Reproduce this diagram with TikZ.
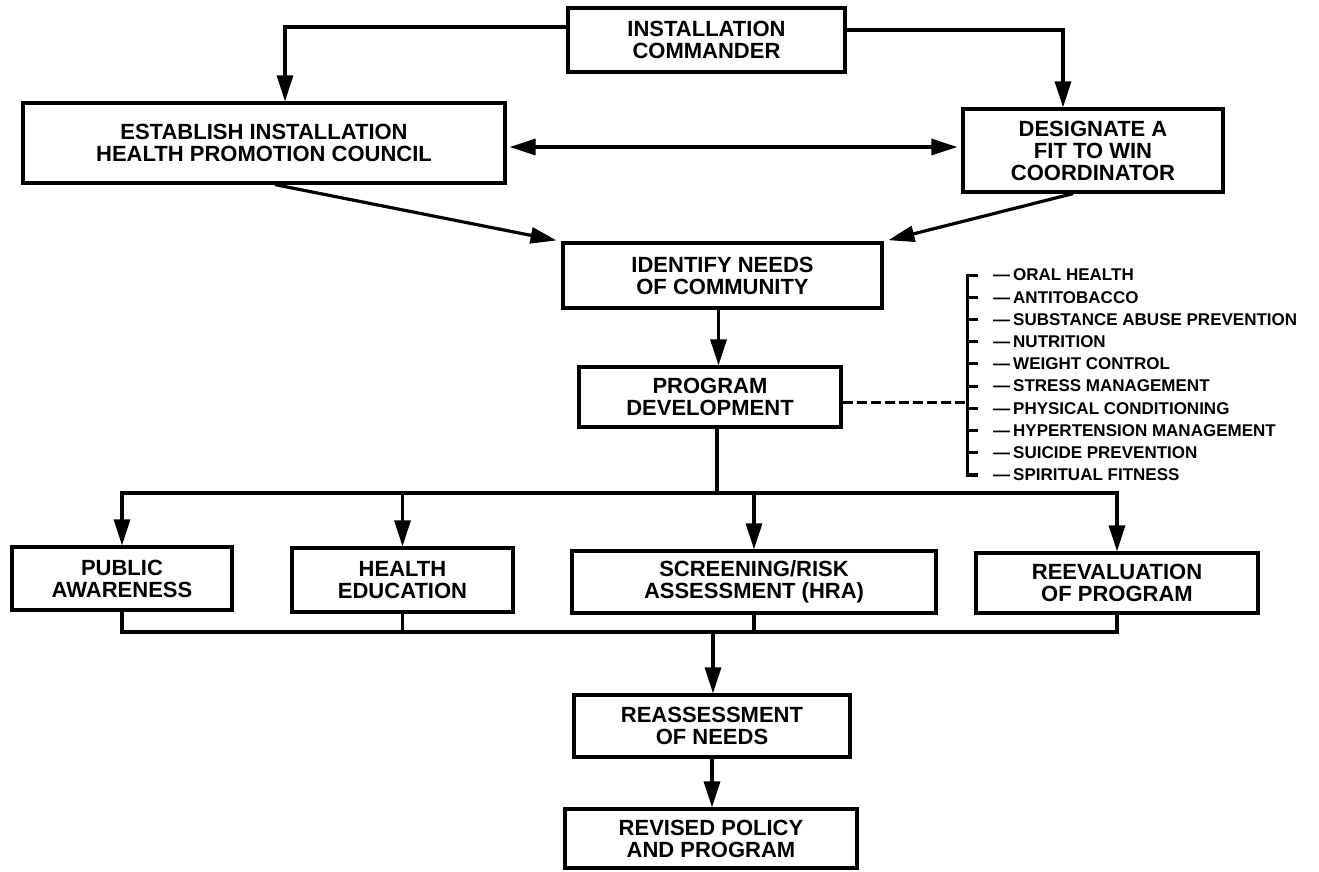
\documentclass[tikz,border=0pt]{standalone}
\usepackage{fontspec}
\setmainfont{Liberation Sans}
\usetikzlibrary{arrows.meta}
\tikzset{
  box/.style={draw, line width=3.2pt, inner sep=0pt, align=center,
    font=\bfseries\fontsize{22}{22}\selectfont},
  conn/.style={line width=3.2pt},
  arr/.style={line width=3.2pt, -{Triangle[length=26pt,width=16pt]}},
  darr/.style={line width=3.2pt, {Triangle[length=26pt,width=16pt]}-{Triangle[length=26pt,width=16pt]}},
  dashline/.style={line width=3pt, dash pattern=on 10pt off 4pt},
  brk/.style={line width=3pt},
  item/.style={anchor=west, inner sep=0pt, font=\bfseries\fontsize{17}{17}\selectfont}
}
\begin{document}
\begin{tikzpicture}[x=1pt,y=-1pt]
\useasboundingbox[fill=white] (0,0) rectangle (1319,871);

% boxes
\node[box, minimum width=277pt, minimum height=64pt] (cmd) at (706.5,40) {INSTALLATION\\COMMANDER};
\node[box, minimum width=482pt, minimum height=80pt] (est) at (264,143) {ESTABLISH INSTALLATION\\HEALTH PROMOTION COUNCIL};
\node[box, minimum width=260pt, minimum height=83pt] (des) at (1093,150.5) {DESIGNATE A\\FIT TO WIN\\COORDINATOR};
\node[box, minimum width=319pt, minimum height=65pt] (idn) at (722.5,275.5) {IDENTIFY NEEDS\\OF COMMUNITY};
\node[box, minimum width=262pt, minimum height=60pt] (prg) at (710,397) {PROGRAM\\DEVELOPMENT};
\node[box, minimum width=220pt, minimum height=63pt] (pub) at (122,578.5) {PUBLIC\\AWARENESS};
\node[box, minimum width=221pt, minimum height=64pt] (hed) at (402.5,580) {HEALTH\\EDUCATION};
\node[box, minimum width=364pt, minimum height=62pt] (scr) at (754,582) {SCREENING/RISK\\ASSESSMENT (HRA)};
\node[box, minimum width=282pt, minimum height=60pt] (rev) at (1117,583) {REEVALUATION\\OF PROGRAM};
\node[box, minimum width=276pt, minimum height=62pt] (rea) at (712,726) {REASSESSMENT\\OF NEEDS};
\node[box, minimum width=292pt, minimum height=59pt] (pol) at (711,838.5) {REVISED POLICY\\AND PROGRAM};

% top connectors
\draw[arr] ([yshift=13pt]cmd.west) -| ([xshift=21pt]est.north);
\draw[arr] ([yshift=10pt]cmd.east) -| ([xshift=-30pt]des.north);
\draw[darr, shorten <=3pt, shorten >=4pt] ([yshift=-4pt]est.east) -- ([yshift=-4pt]est.east -| des.west);
\draw[arr, shorten >=5pt] ([xshift=11pt]est.south) -- (idn.north west);
\draw[arr, shorten >=5pt] ([xshift=-20pt]des.south) -- (idn.north east);
\draw[arr] ([xshift=-4pt]idn.south) -- ([xshift=-4pt]idn.south |- prg.north);

% branch
\coordinate (bj) at (717,493);
\draw[conn] ([xshift=7pt]prg.south) -- (bj);
\draw[arr] (bj) -| (pub.north);
\draw[arr] (bj) -| (rev.north);
\draw[arr] (hed.north |- bj) -- (hed.north);
\draw[arr] (scr.north |- bj) -- (scr.north);

% merge
\coordinate (mj) at (713,632);
\draw[conn] (pub.south) |- (mj);
\draw[conn] (rev.south) |- (mj);
\draw[conn] (hed.south) -- (hed.south |- mj);
\draw[conn] (scr.south) -- (scr.south |- mj);
\draw[arr] (mj) -- (mj |- rea.north);
\draw[arr] (rea.south) -- (rea.south |- pol.north);

% program list
\coordinate (brk) at (967,402);
\draw[dashline] ([yshift=-5pt]prg.east) -- (brk);
\draw[brk] (978,275) -- (967,275) -- (967,475) -- (978,475);
\foreach \t [count=\i from 0] in {ORAL HEALTH, ANTITOBACCO, SUBSTANCE ABUSE PREVENTION, NUTRITION, WEIGHT CONTROL, STRESS MANAGEMENT, PHYSICAL CONDITIONING, HYPERTENSION MANAGEMENT, SUICIDE PREVENTION, SPIRITUAL FITNESS}{
  \draw[brk] (967,275+22.22*\i) -- (978,275+22.22*\i);
  \node[item] (it\i) at (993,275+22.22*\i) {—\hspace{3pt}\t};
}
\end{tikzpicture}
\end{document}
